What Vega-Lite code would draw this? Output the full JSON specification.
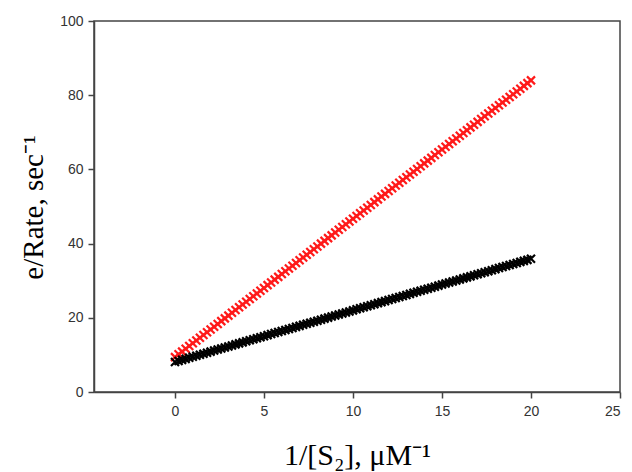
{
  "$schema": "https://vega.github.io/schema/vega-lite/v6.json",
  "width": 526,
  "height": 371,
  "autosize": {"type": "none"},
  "padding": {"left": 94, "top": 21, "right": 12, "bottom": 80},
  "background": "white",
  "config": {
    "view": {"stroke": "#444", "strokeWidth": 1.5},
    "axis": {
      "grid": false,
      "domainColor": "#444",
      "domainWidth": 1.5,
      "tickColor": "#444",
      "tickWidth": 1.5,
      "tickSize": 6,
      "labelFont": "Liberation Sans",
      "labelFontSize": 14,
      "labelColor": "#333",
      "titleFont": "Liberation Serif",
      "titleFontWeight": "normal",
      "titleColor": "#000"
    }
  },
  "datasets": {
    "red": [
      {"x":0,"y":9.40},{"x":0.2,"y":10.15},{"x":0.4,"y":10.89},{"x":0.6,"y":11.64},{"x":0.8,"y":12.38},
      {"x":1,"y":13.13},{"x":1.2,"y":13.88},{"x":1.4,"y":14.62},{"x":1.6,"y":15.37},{"x":1.8,"y":16.11},
      {"x":2,"y":16.86},{"x":2.2,"y":17.61},{"x":2.4,"y":18.35},{"x":2.6,"y":19.10},{"x":2.8,"y":19.84},
      {"x":3,"y":20.59},{"x":3.2,"y":21.34},{"x":3.4,"y":22.08},{"x":3.6,"y":22.83},{"x":3.8,"y":23.57},
      {"x":4,"y":24.32},{"x":4.2,"y":25.07},{"x":4.4,"y":25.81},{"x":4.6,"y":26.56},{"x":4.8,"y":27.30},
      {"x":5,"y":28.05},{"x":5.2,"y":28.80},{"x":5.4,"y":29.54},{"x":5.6,"y":30.29},{"x":5.8,"y":31.03},
      {"x":6,"y":31.78},{"x":6.2,"y":32.53},{"x":6.4,"y":33.27},{"x":6.6,"y":34.02},{"x":6.8,"y":34.76},
      {"x":7,"y":35.51},{"x":7.2,"y":36.26},{"x":7.4,"y":37.00},{"x":7.6,"y":37.75},{"x":7.8,"y":38.49},
      {"x":8,"y":39.24},{"x":8.2,"y":39.99},{"x":8.4,"y":40.73},{"x":8.6,"y":41.48},{"x":8.8,"y":42.22},
      {"x":9,"y":42.97},{"x":9.2,"y":43.72},{"x":9.4,"y":44.46},{"x":9.6,"y":45.21},{"x":9.8,"y":45.95},
      {"x":10,"y":46.70},{"x":10.2,"y":47.45},{"x":10.4,"y":48.19},{"x":10.6,"y":48.94},{"x":10.8,"y":49.68},
      {"x":11,"y":50.43},{"x":11.2,"y":51.18},{"x":11.4,"y":51.92},{"x":11.6,"y":52.67},{"x":11.8,"y":53.41},
      {"x":12,"y":54.16},{"x":12.2,"y":54.91},{"x":12.4,"y":55.65},{"x":12.6,"y":56.40},{"x":12.8,"y":57.14},
      {"x":13,"y":57.89},{"x":13.2,"y":58.64},{"x":13.4,"y":59.38},{"x":13.6,"y":60.13},{"x":13.8,"y":60.87},
      {"x":14,"y":61.62},{"x":14.2,"y":62.37},{"x":14.4,"y":63.11},{"x":14.6,"y":63.86},{"x":14.8,"y":64.60},
      {"x":15,"y":65.35},{"x":15.2,"y":66.10},{"x":15.4,"y":66.84},{"x":15.6,"y":67.59},{"x":15.8,"y":68.33},
      {"x":16,"y":69.08},{"x":16.2,"y":69.83},{"x":16.4,"y":70.57},{"x":16.6,"y":71.32},{"x":16.8,"y":72.06},
      {"x":17,"y":72.81},{"x":17.2,"y":73.56},{"x":17.4,"y":74.30},{"x":17.6,"y":75.05},{"x":17.8,"y":75.79},
      {"x":18,"y":76.54},{"x":18.2,"y":77.29},{"x":18.4,"y":78.03},{"x":18.6,"y":78.78},{"x":18.8,"y":79.52},
      {"x":19,"y":80.27},{"x":19.2,"y":81.02},{"x":19.4,"y":81.76},{"x":19.6,"y":82.51},{"x":19.8,"y":83.25},
      {"x":20,"y":84.00}
    ],
    "black": [
      {"x":0,"y":8.10},{"x":0.2,"y":8.38},{"x":0.4,"y":8.66},{"x":0.6,"y":8.93},{"x":0.8,"y":9.21},
      {"x":1,"y":9.49},{"x":1.2,"y":9.77},{"x":1.4,"y":10.05},{"x":1.6,"y":10.32},{"x":1.8,"y":10.60},
      {"x":2,"y":10.88},{"x":2.2,"y":11.16},{"x":2.4,"y":11.44},{"x":2.6,"y":11.71},{"x":2.8,"y":11.99},
      {"x":3,"y":12.27},{"x":3.2,"y":12.55},{"x":3.4,"y":12.83},{"x":3.6,"y":13.10},{"x":3.8,"y":13.38},
      {"x":4,"y":13.66},{"x":4.2,"y":13.94},{"x":4.4,"y":14.22},{"x":4.6,"y":14.49},{"x":4.8,"y":14.77},
      {"x":5,"y":15.05},{"x":5.2,"y":15.33},{"x":5.4,"y":15.61},{"x":5.6,"y":15.88},{"x":5.8,"y":16.16},
      {"x":6,"y":16.44},{"x":6.2,"y":16.72},{"x":6.4,"y":17.00},{"x":6.6,"y":17.27},{"x":6.8,"y":17.55},
      {"x":7,"y":17.83},{"x":7.2,"y":18.11},{"x":7.4,"y":18.39},{"x":7.6,"y":18.66},{"x":7.8,"y":18.94},
      {"x":8,"y":19.22},{"x":8.2,"y":19.50},{"x":8.4,"y":19.78},{"x":8.6,"y":20.05},{"x":8.8,"y":20.33},
      {"x":9,"y":20.61},{"x":9.2,"y":20.89},{"x":9.4,"y":21.17},{"x":9.6,"y":21.44},{"x":9.8,"y":21.72},
      {"x":10,"y":22.00},{"x":10.2,"y":22.28},{"x":10.4,"y":22.56},{"x":10.6,"y":22.83},{"x":10.8,"y":23.11},
      {"x":11,"y":23.39},{"x":11.2,"y":23.67},{"x":11.4,"y":23.95},{"x":11.6,"y":24.22},{"x":11.8,"y":24.50},
      {"x":12,"y":24.78},{"x":12.2,"y":25.06},{"x":12.4,"y":25.34},{"x":12.6,"y":25.61},{"x":12.8,"y":25.89},
      {"x":13,"y":26.17},{"x":13.2,"y":26.45},{"x":13.4,"y":26.73},{"x":13.6,"y":27.00},{"x":13.8,"y":27.28},
      {"x":14,"y":27.56},{"x":14.2,"y":27.84},{"x":14.4,"y":28.12},{"x":14.6,"y":28.39},{"x":14.8,"y":28.67},
      {"x":15,"y":28.95},{"x":15.2,"y":29.23},{"x":15.4,"y":29.51},{"x":15.6,"y":29.78},{"x":15.8,"y":30.06},
      {"x":16,"y":30.34},{"x":16.2,"y":30.62},{"x":16.4,"y":30.90},{"x":16.6,"y":31.17},{"x":16.8,"y":31.45},
      {"x":17,"y":31.73},{"x":17.2,"y":32.01},{"x":17.4,"y":32.29},{"x":17.6,"y":32.56},{"x":17.8,"y":32.84},
      {"x":18,"y":33.12},{"x":18.2,"y":33.40},{"x":18.4,"y":33.68},{"x":18.6,"y":33.95},{"x":18.8,"y":34.23},
      {"x":19,"y":34.51},{"x":19.2,"y":34.79},{"x":19.4,"y":35.07},{"x":19.6,"y":35.34},{"x":19.8,"y":35.62},
      {"x":20,"y":35.90}
    ]
  },
  "encoding": {
    "x": {
      "field": "x", "type": "quantitative",
      "scale": {"domain": [-4.55, 25], "nice": false, "zero": false},
      "axis": {
        "values": [0, 5, 10, 15, 20, 25],
        "title": "1/[S₂], μM⁻¹",
        "titleFontSize": 30,
        "labelPadding": 6,
        "titleY": 72,
        "titleBaseline": "alphabetic"
      }
    },
    "y": {
      "field": "y", "type": "quantitative",
      "scale": {"domain": [0, 100], "nice": false},
      "axis": {
        "values": [0, 20, 40, 60, 80, 100],
        "title": "e/Rate, sec⁻¹",
        "titleFontSize": 29,
        "labelPadding": 5,
        "titleX": -52,
        "titleY": 186,
        "titleAngle": 270,
        "titleAlign": "center",
        "titleBaseline": "alphabetic"
      }
    }
  },
  "layer": [
    {
      "data": {"name": "red"},
      "mark": {"type": "point", "shape": "M-1,-1L1,1M-1,1L1,-1", "filled": false, "stroke": "#ff1a1a", "strokeWidth": 2.2, "size": 64, "opacity": 1}
    },
    {
      "data": {"name": "black"},
      "mark": {"type": "point", "shape": "M-1,-1L1,1M-1,1L1,-1", "filled": false, "stroke": "#000000", "strokeWidth": 2.2, "size": 64, "opacity": 1}
    }
  ]
}
